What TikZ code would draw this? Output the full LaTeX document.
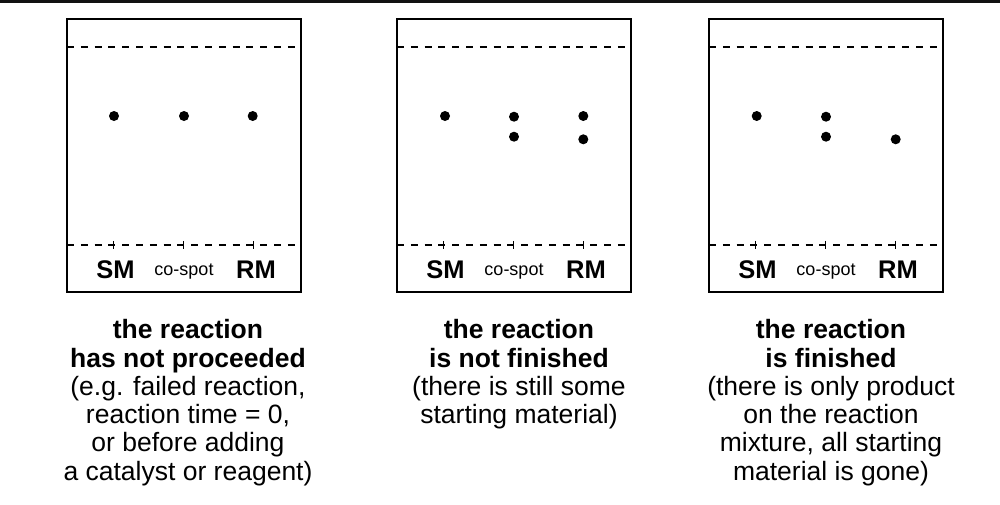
\documentclass[tikz,border=0pt]{standalone}
\usepackage{fontspec}
\setmainfont{Liberation Sans}
\begin{document}
\begin{tikzpicture}[x=1pt,y=-1pt,
  plate/.style={draw=black,line width=1.9pt},
  front/.style={draw=black,line width=1.6pt,dash pattern=on 7pt off 6.8pt},
  tickmark/.style={draw=black,line width=1pt},
  spot/.style={circle,fill=black,inner sep=0pt,minimum size=10pt},
  biglbl/.style={font=\bfseries\fontsize{25.5}{28}\selectfont,inner sep=0pt,anchor=base},
  smalllbl/.style={font=\fontsize{18}{20}\selectfont,inner sep=0pt,anchor=base},
  caption/.style={align=center,inner sep=0pt,anchor=north,font=\fontsize{26.5}{28.3}\selectfont}]
\useasboundingbox (0,0) rectangle (1000,504);
\fill[black!93] (0,0) rectangle (1000,3.4);
\foreach \L/\i in {67/1,397/2,709/3}{
  \draw[plate] (\L,19.3) rectangle ({\L+234},291.7);
  \draw[front] (\L,46.7) -- ({\L+234},46.7);
  \draw[front] (\L,245) -- ({\L+234},245);
  \foreach \t in {46.5,116.5,186}{
    \draw[tickmark] ({\L+\t},240.8) -- ({\L+\t},249.2);
  }
  \node[biglbl] (sm\i) at ({\L+48.5},278.3) {SM};
  \node[smalllbl] (co\i) at ({\L+117},275) {co-spot};
  \node[biglbl] (rm\i) at ({\L+189},278.3) {RM};
}
% plate 1 spots
\node[spot] (p1a) at (114,116) {};
\node[spot] (p1b) at (184,116) {};
\node[spot] (p1c) at (252.7,116) {};
% plate 2 spots
\node[spot] (p2a) at (445,116) {};
\node[spot] (p2b) at (514,116.7) {};
\node[spot] (p2c) at (514,136.7) {};
\node[spot] (p2d) at (583.3,116) {};
\node[spot] (p2e) at (583.3,139.3) {};
% plate 3 spots
\node[spot] (p3a) at (756.7,116) {};
\node[spot] (p3b) at (826,116.7) {};
\node[spot] (p3c) at (826,136.7) {};
\node[spot] (p3d) at (895.7,139.3) {};
% captions
\node[caption] (cap1) at (188,319.3) {\textbf{the reaction}\\\textbf{has not proceeded}\\(e.g. failed reaction,\\reaction time = 0,\\or before adding\\a catalyst or reagent)};
\node[caption] (cap2) at (519,319.3) {\textbf{the reaction}\\\textbf{is not finished}\\(there is still some\\starting material)};
\node[caption] (cap3) at (831,319.3) {\textbf{the reaction}\\\textbf{is finished}\\(there is only product\\on the reaction\\mixture, all starting\\material is gone)};
\end{tikzpicture}
\end{document}
